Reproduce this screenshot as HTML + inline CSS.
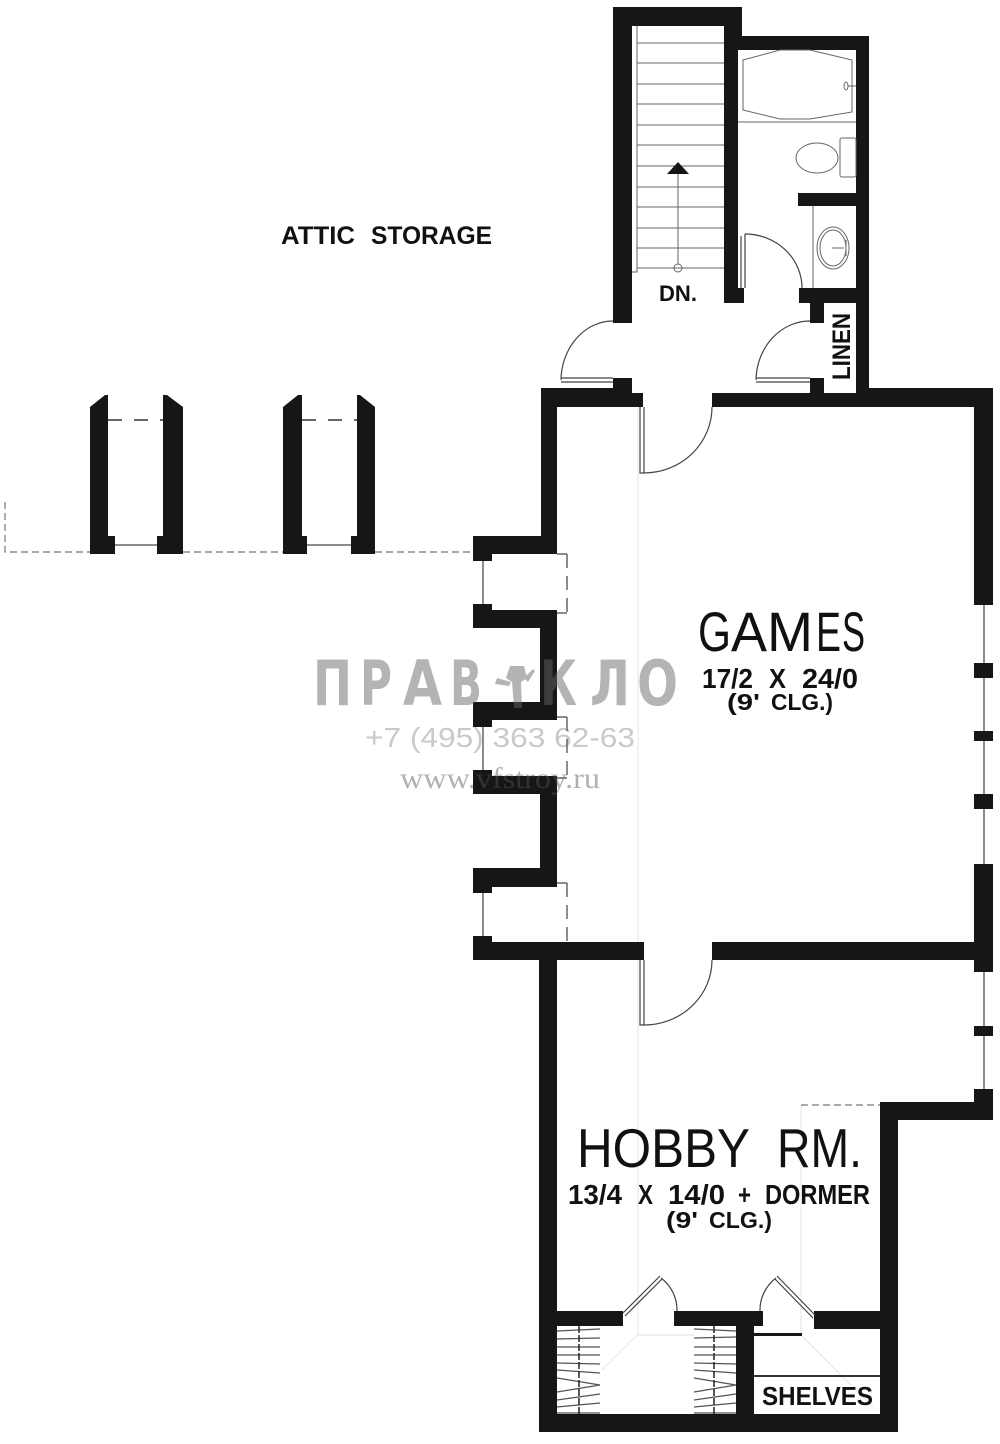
<!DOCTYPE html>
<html><head><meta charset="utf-8"><style>html,body{margin:0;padding:0;background:#fff}svg{display:block}text{font-family:"Liberation Sans",sans-serif}</style></head><body>
<svg width="1000" height="1444" viewBox="0 0 1000 1444" xmlns="http://www.w3.org/2000/svg">
<rect width="1000" height="1444" fill="#fff"/>
<!-- faint guide lines -->
<g stroke="#e6e6e6" stroke-width="1" fill="none">
<path d="M638 407V942M638 960V1335H695M637 1335L602 1370M801 1105V1335L873 1407"/>
</g>
<!-- window and thin lines (under walls) -->
<g stroke="#666" stroke-width="1.5" fill="none">
<path d="M984 605V1090"/>
<path d="M483 561V604M483 727V770M483 893V936"/>
<path d="M115 545H157M307 545H351"/>
<path d="M557 554H567M557 613H567M557 717H567M557 778H567M557 883H567"/>
</g>
<!-- walls -->
<g fill="#161616">
<!-- stair + bath -->
<path d="M613 7H742V36H869V388H993V605H974V407H712V393H856V50H738V288H744V303H724V26H632V323H613Z"/>
<rect x="798" y="193" width="58" height="13"/>
<rect x="799" y="288" width="57" height="15"/>
<rect x="810" y="303" width="14" height="20"/>
<rect x="810" y="378" width="14" height="15"/>
<rect x="613" y="378" width="19" height="15"/>
<path d="M541 388H613V393H643V407H557V554H492V561H473V536H541Z"/>
<path d="M473 604H492V610H557V720H492V727H473V702H540V628H473Z"/>
<path d="M473 770H492V776H557V887H492V893H473V868H540V794H473Z"/>
<path d="M473 936H492V942H644V960H557V1311H623V1326H557V1414H736V1326H674V1311H763V1326H754V1414H880V1329H814V1311H880V1102H974V1089H993V1120H898V1432H539V960H473Z"/>
<path d="M712 942H974V864H993V972H974V960H712Z"/>
<rect x="974" y="663" width="19" height="15"/>
<rect x="974" y="731" width="19" height="10"/>
<rect x="974" y="794" width="19" height="15"/>
<rect x="974" y="1026" width="19" height="10"/>
<!-- gable piers -->
<path d="M90 407L105 395H108V536H115V554H90Z"/>
<path d="M183 407L167 395H163V536H157V554H183Z"/>
<path d="M283 407L298 395H302V536H307V554H283Z"/>
<path d="M375 407L360 395H357V536H351V554H375Z"/>
<rect x="754" y="1333" width="48" height="3"/>
</g>
<g stroke="#666" stroke-width="1.5" fill="none" stroke-dasharray="14 8">
<path d="M567 554V613M567 717V778M567 883V942"/>
</g>
<g stroke="#777" stroke-width="1.2" fill="none" stroke-dasharray="7 4">
<path d="M5 502V552H90M183 552H283M375 552H473"/>
<path d="M801 1105H880"/>
</g>
<g stroke="#333" stroke-width="1.5" fill="none" stroke-dasharray="14 12">
<path d="M108 420H163M302 420H357"/>
</g>
<!-- stairs -->
<g stroke="#666" stroke-width="1" fill="none">
<path d="M637 43H724M637 63H724M637 84H724M637 104H724M637 125H724M637 145H724M637 166H724M637 187H724M637 207H724M637 228H724M637 248H724M637 268H724"/>
<path d="M637 26V272H632"/>
<path d="M678 174V264"/>
<circle cx="678" cy="268" r="4"/>
</g>
<path d="M678 162L689 174H667Z" fill="#161616"/>
<!-- bath fixtures -->
<g stroke="#666" stroke-width="1" fill="none">
<path d="M743 60L780 50H810L852 60V112L810 119H780L743 110Z"/>
<path d="M738 122H856"/>
<ellipse cx="846" cy="86" rx="2" ry="4"/>
<path d="M848 86H856"/>
<ellipse cx="817" cy="158" rx="21" ry="15"/>
<rect x="840" y="138" width="16" height="39" rx="2"/>
<path d="M813 206V288"/>
<ellipse cx="833" cy="248" rx="16" ry="21"/>
<ellipse cx="833" cy="248" rx="13" ry="18"/>
<path d="M832 248H844M846 240V256"/>
</g>
<!-- doors -->
<g stroke="#444" stroke-width="1.2" fill="none">
<path d="M745 234A57 54 0 0 1 802 288"/>
<path d="M741 236V288M745 234V288"/>
<path d="M613 321A52 60 0 0 0 561 380"/>
<path d="M561 378H613M561 382H613"/>
<path d="M810 321A54 60 0 0 0 756 380"/>
<path d="M756 378H810M756 382H810"/>
<path d="M644 473A68 66 0 0 0 712 407"/>
<path d="M640 407V473H644V407"/>
<path d="M644 1025A68 65 0 0 0 712 960"/>
<path d="M640 960V1025H644V960"/>
<path d="M661 1278A40 40 0 0 1 677 1311"/>
<path d="M623 1313L660 1276M625 1316L662 1279"/>
<path d="M776 1278A40 40 0 0 0 760 1311"/>
<path d="M775 1279L813 1318M777 1276L815 1315"/>
</g>
<!-- closets -->
<g stroke="#555" stroke-width="1.3" fill="none">
<path d="M557 1331L600 1329M557 1339L600 1338M557 1347H600M557 1355H600M557 1363L600 1364M557 1370L600 1373M557 1378L600 1385M557 1392L600 1385M557 1400L600 1394M557 1407L600 1403M557 1413H600"/>
<path d="M694 1329L736 1331M694 1338L736 1337M694 1347H736M694 1355H736M694 1363L736 1364M694 1370L736 1373M694 1378L736 1385M694 1392L736 1385M694 1400L736 1394M694 1407L736 1403M694 1413H736"/>
</g>
<g stroke="#222" stroke-width="1.5" stroke-dasharray="7 2" fill="none">
<path d="M579 1326V1414M714 1326V1414"/>
</g>
<path d="M754 1376H880" stroke="#333" stroke-width="2"/>
<!-- labels -->
<g fill="#111">
<g font-size="25" font-weight="700">
<text x="281" y="244" textLength="74" lengthAdjust="spacingAndGlyphs">ATTIC</text>
<text x="371" y="244" textLength="121" lengthAdjust="spacingAndGlyphs">STORAGE</text>
</g>
<text x="659" y="301" font-size="22" font-weight="700" textLength="38" lengthAdjust="spacingAndGlyphs">DN.</text>
<text transform="translate(850 380) rotate(-90)" font-size="25" font-weight="700" textLength="67" lengthAdjust="spacingAndGlyphs">LINEN</text>
<text x="762" y="1405" font-size="26" font-weight="700" textLength="111" lengthAdjust="spacingAndGlyphs">SHELVES</text>
<g font-size="56">
<text x="698" y="651" textLength="33" lengthAdjust="spacingAndGlyphs">G</text>
<text x="731" y="651" textLength="36" lengthAdjust="spacingAndGlyphs">A</text>
<text x="767" y="651" textLength="46" lengthAdjust="spacingAndGlyphs">M</text>
<text x="816" y="651" textLength="25" lengthAdjust="spacingAndGlyphs">E</text>
<text x="842" y="651" textLength="23" lengthAdjust="spacingAndGlyphs">S</text>
</g>
<g font-size="28" font-weight="700">
<text x="702" y="688" textLength="51" lengthAdjust="spacingAndGlyphs">17/2</text>
<text x="769" y="688" textLength="17" lengthAdjust="spacingAndGlyphs">X</text>
<text x="802" y="688" textLength="56" lengthAdjust="spacingAndGlyphs">24/0</text>
<text x="568" y="1204" textLength="54" lengthAdjust="spacingAndGlyphs">13/4</text>
<text x="638" y="1204" textLength="15" lengthAdjust="spacingAndGlyphs">X</text>
<text x="668" y="1204" textLength="57" lengthAdjust="spacingAndGlyphs">14/0</text>
<text x="738" y="1204" textLength="13" lengthAdjust="spacingAndGlyphs">+</text>
<text x="765" y="1204" textLength="105" lengthAdjust="spacingAndGlyphs">DORMER</text>
</g>
<g font-size="23" font-weight="700">
<text x="727" y="710" textLength="33" lengthAdjust="spacingAndGlyphs">(9'</text>
<text x="771" y="710" textLength="62" lengthAdjust="spacingAndGlyphs">CLG.)</text>
<text x="666" y="1228" textLength="32" lengthAdjust="spacingAndGlyphs">(9'</text>
<text x="709" y="1228" textLength="63" lengthAdjust="spacingAndGlyphs">CLG.)</text>
</g>
<g font-size="55">
<text x="577" y="1167" textLength="173" lengthAdjust="spacingAndGlyphs">HOBBY</text>
<text x="777" y="1167" textLength="85" lengthAdjust="spacingAndGlyphs">RM.</text>
</g>
</g>
<!-- watermark -->
<g fill="#676767" opacity=".49" font-size="62" font-weight="700">
<text x="313" y="705" textLength="39" lengthAdjust="spacingAndGlyphs" style="font-family:'DejaVu Sans',sans-serif">П</text>
<text x="360" y="705" textLength="32" lengthAdjust="spacingAndGlyphs" style="font-family:'DejaVu Sans',sans-serif">Р</text>
<text x="403" y="705" textLength="39" lengthAdjust="spacingAndGlyphs" style="font-family:'DejaVu Sans',sans-serif">А</text>
<text x="450" y="705" textLength="32" lengthAdjust="spacingAndGlyphs" style="font-family:'DejaVu Sans',sans-serif">В</text>
<text x="540" y="705" textLength="37" lengthAdjust="spacingAndGlyphs" style="font-family:'DejaVu Sans',sans-serif">К</text>
<text x="590" y="705" textLength="40" lengthAdjust="spacingAndGlyphs" style="font-family:'DejaVu Sans',sans-serif">Л</text>
<text x="637" y="705" textLength="41" lengthAdjust="spacingAndGlyphs" style="font-family:'DejaVu Sans',sans-serif">О</text>
<path d="M510 666h14l3 12-6 4 1 26h-8l-2-26-6-4zM497 678l14 4-2 4-14-2zM524 678l9-9 2 2-7 11z"/>
</g>
<text x="365" y="747" font-size="28" fill="#676767" opacity=".35" textLength="270" lengthAdjust="spacingAndGlyphs">+7 (495) 363 62-63</text>
<text x="400" y="788" font-size="30" fill="#555" opacity=".45" style="font-family:'Liberation Serif',serif" textLength="200" lengthAdjust="spacingAndGlyphs">www.vfstroy.ru</text>
</svg>
</body></html>
